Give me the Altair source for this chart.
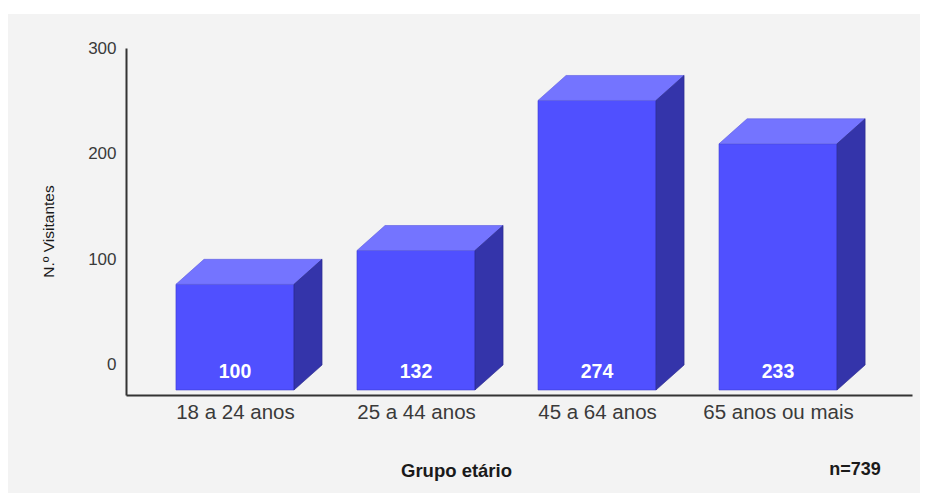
import altair as alt
import pandas as pd

# ---- data ----
categories = ["18 a 24 anos", "25 a 44 anos", "45 a 64 anos", "65 anos ou mais"]
visitors = [100, 132, 274, 233]
y_ticks = [0, 100, 200, 300]
sample_note = "n=739"

# ---- 3D box styling constants (scale units) ----
HW = 0.326   # half width of the front face
DX = 0.155   # horizontal depth
DY = 23.66   # vertical depth

idx = list(range(len(categories)))

front = pd.DataFrame({
    "cat": categories,
    "pos": idx,
    "val": visitors,
})
front["x"] = front["pos"] - HW
front["x2"] = front["pos"] + HW
front["y"] = front["val"] - DY
front["y2"] = -DY

top_rows = []
side_rows = []
for i, (c, v) in enumerate(zip(categories, visitors)):
    top_rows.append({"cat": c, "y": v - DY, "x": i - HW, "x2": i + HW})
    top_rows.append({"cat": c, "y": v, "x": i - HW + DX, "x2": i + HW + DX})
    side_rows.append({"cat": c, "x": i + HW, "y": v - DY, "y2": -DY})
    side_rows.append({"cat": c, "x": i + HW + DX, "y": v, "y2": 0})
top = pd.DataFrame(top_rows)
side = pd.DataFrame(side_rows)

x_scale = alt.Scale(domain=[-0.602, 3.740], nice=False, zero=False)
y_scale = alt.Scale(domain=[-28.4, 300], nice=False, zero=False)

label_expr = "[" + ",".join("'" + c + "'" for c in categories) + "][datum.value]"

x_axis = alt.Axis(
    values=idx, labelExpr=label_expr, grid=False, ticks=False,
    domainColor="#333333", domainWidth=2, labelFontSize=20.5,
    labelColor="#3a3a3a", labelPadding=7, labelFont="Liberation Sans",
    title="Grupo etário", titleFontSize=18.5, titleFontWeight="bold",
    titleColor="#1a1a1a", titleFont="Liberation Sans",
    titleX=330, titleY=75, titleAlign="center", titleBaseline="middle",
)
y_axis = alt.Axis(
    values=y_ticks, grid=False, ticks=False, domainColor="#333333",
    domainWidth=2, labelFontSize=17, labelColor="#3a3a3a",
    labelPadding=10, labelFont="Liberation Sans",
    title="N.º Visitantes", titleFontSize=15.5, titleFontWeight="normal",
    titleColor="#1a1a1a", titleFont="Liberation Sans",
    titleX=-78, titleY=183, titleAlign="center", titleBaseline="middle",
)


def X(field):
    return alt.X(field, scale=x_scale, axis=x_axis)


def Y(field):
    return alt.Y(field, scale=y_scale, axis=y_axis)


W, H = 786, 347

front_layer = alt.Chart(front).mark_rect(
    color="#5050ff", stroke="#3a3ad0", strokeWidth=0.6
).encode(x=X("x:Q"), x2="x2:Q", y=Y("y:Q"), y2="y2:Q")

top_layer = alt.Chart(top).mark_area(
    orient="horizontal", color="#7474ff", stroke="#5a5ae0", strokeWidth=0.6
).encode(y=Y("y:Q"), x=X("x:Q"), x2="x2:Q", detail="cat:N")

side_layer = alt.Chart(side).mark_area(
    orient="vertical", color="#3434aa", stroke="#26268a", strokeWidth=0.6
).encode(x=X("x:Q"), y=Y("y:Q"), y2="y2:Q", detail="cat:N")

labels = alt.Chart(front).mark_text(
    color="white", fontWeight="bold", fontSize=19.5, font="Liberation Sans",
    dy=-18, baseline="middle", align="center"
).encode(x=X("pos:Q"), y=Y("y2:Q"), text="val:Q")

note = alt.Chart(pd.DataFrame({"t": [sample_note]})).mark_text(
    fontWeight="bold", fontSize=18, font="Liberation Sans", color="#1a1a1a",
    align="center", baseline="middle"
).encode(x=alt.value(729), y=alt.value(422), text="t:N")

top_band = alt.Chart(pd.DataFrame({"a": [0]})).mark_rect(color="white").encode(
    x=alt.value(-130), x2=alt.value(1000), y=alt.value(-42), y2=alt.value(-34)
)

chart = alt.layer(
    front_layer, top_layer, side_layer, labels, note, top_band
).properties(
    width=W, height=H,
    autosize=alt.AutoSizeParams(type="none"),
    padding={"left": 118, "top": 40, "right": 8, "bottom": 98},
    background="#f3f3f3",
).configure_view(stroke=None)

chart.save("out.html", embed_options={"renderer": "svg", "actions": False})
